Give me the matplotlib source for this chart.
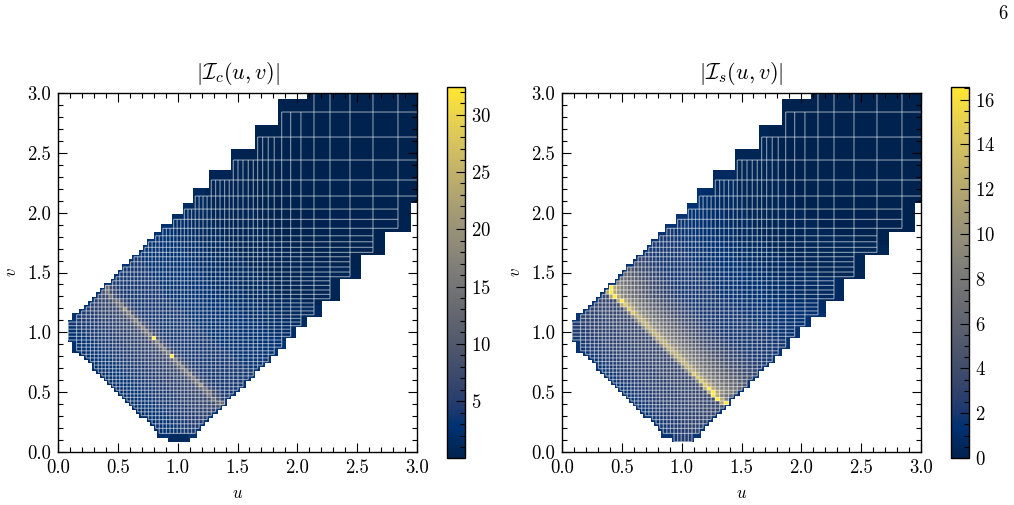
import numpy as np
import matplotlib
matplotlib.use("Agg")
import matplotlib.pyplot as plt
from matplotlib.ticker import MultipleLocator

plt.rcParams['font.family'] = 'cmr10'
plt.rcParams['mathtext.fontset'] = 'cm'
plt.rcParams['axes.formatter.use_mathtext'] = True
plt.rcParams['axes.unicode_minus'] = False

# cell edges of the (u, v) grid, both directions use the same nodes
edges = [0.086, 0.155, 0.197, 0.236, 0.271, 0.304, 0.336, 0.366, 0.396, 0.426,
         0.456, 0.486, 0.516, 0.546, 0.576, 0.606, 0.636, 0.666, 0.696, 0.726,
         0.756, 0.786, 0.816, 0.846, 0.876, 0.906, 0.936, 0.966, 0.996, 1.026,
         1.056, 1.086, 1.116, 1.147, 1.179, 1.212, 1.246, 1.281, 1.317, 1.354,
         1.392, 1.431, 1.465, 1.504, 1.546, 1.590, 1.632, 1.668, 1.710, 1.757,
         1.807, 1.869, 1.944, 2.030, 2.139, 2.273, 2.440, 2.632, 2.841, 3.060]

# first and last filled column of every row
row_start = [26, 23, 22, 21, 20, 18, 17, 16, 15, 14, 13, 12, 11, 10, 9, 8, 7, 6, 5, 5,
             4, 3, 2, 1, 1, 1, 0, 0, 0, 0, 0, 1, 1, 2, 3, 4, 5, 6, 7, 8,
             10, 11, 12, 13, 15, 16, 18, 19, 20, 22, 24, 27, 30, 33, 37, 42, 47, 51, 54]
row_stop = [30, 32, 33, 34, 35, 36, 37, 38, 39, 39, 40, 41, 42, 43, 43, 44, 45, 45, 46, 47,
            48, 48, 49, 49, 50, 50, 50, 51, 51, 51, 52, 52, 52, 53, 53, 53, 53, 54, 54, 54,
            54, 54, 55, 55, 55, 55, 55, 56, 56, 56, 56, 57, 57, 57, 58, 58, 58, 58, 58]

# one character per cell, the character picks an entry of the level lists
CODES = "0123456789abcdefghi"
levels_c = [0.05, 0.65, 1.3, 1.9, 2.6, 3.2, 3.9, 4.5, 5.5, 6.5,
            7.8, 9.7, 11.7, 13.6, 16.2, 19.4, 23.3, 27.5, 32.4]
levels_s = [0.0, 0.33, 0.66, 1.0, 1.3, 1.66, 2.0, 2.3, 2.8, 3.3,
            4.0, 5.0, 6.0, 7.0, 8.3, 9.9, 11.9, 14.1, 16.56]

rows_c = [
    "22222",
    "3445556666",
    "344555666677",
    "34455566667777",
    "3445556666777788",
    "3344555666677778888",
    "334455566667777888899",
    "3344555666677778888999a",
    "3344555666677778888999acd",
    "3344555666677778888999ada8",
    "3344555666677778888999ada876",
    "3344555666677778888999ac" "d" "a8766",
    "3344555666677778888999ac" "d" "a876666",
    "3344555666677778888999ac" "f" "a87666666",
    "3344555666677778888999ac" "e" "a876666666",
    "3344555666677778888999ac" "e" "a87666666666",
    "3344555666677778888999ac" "e" "a8766666666666",
    "3344555666677778888999ac" "e" "a87666666666666",
    "3344555666677778888999ac" "e" "a87666666666666" "55",
    "344555666677778888999ac" "e" "a87666666666666" "5555",
    "344555666677778888999ac" "e" "a87666666666666" "555555",
    "344555666677778888999ac" "i" "a87666666666666" "5555555",
    "344555666677778888999ac" "e" "a87666666666666" "55555555" "4",
    "344555666677778888999ac" "e" "a87666666666666" "55555555" "44",
    "44555666677778888999ac" "e" "a87666666666666" "55555555" "4444",
    "4555666677778888999ac" "e" "a87666666666666" "55555555" "44444",
    "4555666677778888999ac" "i" "a87666666666666" "55555555" "444444",
    "555666677778888999ac" "e" "a87666666666666" "55555555" "444444" "33",
    "55666677778888999ac" "e" "a87666666666666" "55555555" "444444" "333",
    "5666677778888999ac" "e" "a87666666666666" "55555555" "444444" "3333",
    "666677778888999ac" "e" "a87666666666666" "55555555" "444444" "333333",
    "6677778888999ac" "e" "a87666666666666" "55555555" "444444" "333333" "2",
    "677778888999ac" "e" "a87666666666666" "55555555" "444444" "333333" "22",
    "7778888999ac" "e" "a87666666666666" "55555555" "444444" "333333" "2222",
    "78888999ac" "f" "a87666666666666" "55555555" "444444" "333333" "22222",
    "888999ac" "d" "a87666666666666" "55555555" "444444" "333333" "222222",
    "8999ac" "d" "a87666666666666" "55555555" "444444" "333333" "222222" "1",
    "99a" "d" "a87666666666666" "55555555" "444444" "333333" "222222" "1111",
    "a" "d" "a87666666666666" "55555555" "444444" "333333" "222222" "11111",
    "d" "a87666666666666" "55555555" "444444" "333333" "222222" "11111",
    "7666666666666" "55555555" "444444" "333333" "222222" "111111",
    "66666666666" "55555555" "444444" "333333" "222222" "1111111",
    "666666666" "55555555" "444444" "333333" "222222" "111111111",
    "6666666" "55555555" "444444" "333333" "222222" "1111111111",
    "6666" "55555555" "444444" "333333" "222222" "1111111111" "0",
    "66" "55555555" "444444" "333333" "222222" "1111111111" "00",
    "5555555" "444444" "333333" "222222" "1111111111" "000",
    "55555" "444444" "333333" "222222" "1111111111" "00000",
    "555" "444444" "333333" "222222" "1111111111" "000000",
    "444444" "333333" "222222" "1111111111" "0000000",
    "444" "333333" "222222" "1111111111" "00000000",
    "33333" "222222" "1111111111" "0000000000",
    "3" "222222" "1111111111" "00000000000",
    "222" "1111111111" "000000000000",
    "11111111" "00000000000000",
    "11" "000000000000000",
    "000000000000",
    "00000000",
    "00000",
]

rows_s = [
    "67777",
    "5667777888",
    "566777788888",
    "56677778888888",
    "5667777888888899",
    "5566777788888889999",
    "556677778888888999999",
    "5566777788888889999999a",
    "5566777788888889999999ag" "i",
    "5566777788888889999999a" "i" "ge",
    "5566777788888889999999a" "i" "gedc",
    "5566777788888889999999ag" "i" "gfeed",
    "5566777788888889999999ag" "i" "gfeeddc",
    "5566777788888889999999ae" "h" "gfeeddccb",
    "5566777788888889999999ae" "h" "gfeeddccbb",
    "5566777788888889999999ae" "h" "gfeeddccbbaa",
    "5566777788888889999999ae" "h" "gfeeddccbbaa99",
    "5566777788888889999999ae" "g" "gfeeddccbbaa998",
    "5566777788888889999999ae" "g" "gfeeddccbbaa99887",
    "566777788888889999999ae" "g" "gfeeddccbbaa998877" "6",
    "566777788888889999999ae" "g" "gfeeddccbbaa998877" "666",
    "566777788888889999999ae" "g" "gfeeddccbbaa998877" "6666",
    "566777788888889999999ae" "g" "gfeeddccbbaa998877" "666666",
    "566777788888889999999ae" "g" "gfeeddccbbaa998877" "6666666",
    "66777788888889999999ae" "g" "gfeeddccbbaa998877" "666666666",
    "6777788888889999999ae" "g" "gfeeddccbbaa998877" "6666666666",
    "6777788888889999999ae" "g" "gfeeddccbbaa998877" "6666666666" "5",
    "777788888889999999ae" "g" "gfeeddccbbaa998877" "6666666666" "555",
    "77788888889999999ae" "g" "gfeeddccbbaa998877" "6666666666" "5555",
    "7788888889999999ae" "g" "gfeeddccbbaa998877" "6666666666" "55555",
    "788888889999999ae" "g" "gfeeddccbbaa998877" "6666666666" "555555" "4",
    "8888889999999ae" "g" "gfeeddccbbaa998877" "6666666666" "555555" "44",
    "888889999999ae" "g" "gfeeddccbbaa998877" "6666666666" "555555" "444",
    "8889999999ae" "h" "gfeeddccbbaa998877" "6666666666" "555555" "44444",
    "89999999ae" "h" "gfeeddccbbaa998877" "6666666666" "555555" "44444" "3",
    "999999ag" "h" "gfeeddccbbaa998877" "6666666666" "555555" "44444" "33",
    "9999ag" "i" "gfeeddccbbaa998877" "6666666666" "555555" "44444" "333",
    "99g" "i" "gfeeddccbbaa998877" "6666666666" "555555" "44444" "3333" "22",
    "g" "i" "gfeeddccbbaa998877" "6666666666" "555555" "44444" "3333" "222",
    "i" "gfeeddccbbaa998877" "6666666666" "555555" "44444" "3333" "222",
    "eeddccbbaa998877" "6666666666" "555555" "44444" "3333" "2222",
    "ddccbbaa998877" "6666666666" "555555" "44444" "3333" "22222",
    "ccbbaa998877" "6666666666" "555555" "44444" "3333" "22222" "11",
    "bbaa998877" "6666666666" "555555" "44444" "3333" "22222" "111",
    "a998877" "6666666666" "555555" "44444" "3333" "22222" "1111",
    "98877" "6666666666" "555555" "44444" "3333" "22222" "11111",
    "77" "6666666666" "555555" "44444" "3333" "22222" "111111",
    "6666666666" "555555" "44444" "3333" "22222" "11111111",
    "66666666" "555555" "44444" "3333" "22222" "111111111",
    "66666" "555555" "44444" "3333" "22222" "111111111" "0",
    "66" "555555" "44444" "3333" "22222" "111111111" "00",
    "5555" "44444" "3333" "22222" "111111111" "0000",
    "44444" "3333" "22222" "111111111" "00000",
    "4" "3333" "22222" "111111111" "000000",
    "22222" "111111111" "00000000",
    "11111111" "000000000",
    "11" "0000000000",
    "00000000",
    "00000",
]

u_ticks = [0.0, 0.5, 1.0, 1.5, 2.0, 2.5, 3.0]


def fine_field(rows, levels, cap):
    """Cell values on a grid split at the midpoints, with a half cell rim around the filled part."""
    n = len(edges) - 1
    z = np.full((n, n), np.nan)
    for j, row in enumerate(rows):
        for k in range(row_start[j], row_stop[j] + 1):
            z[j, k] = levels[CODES.index(row[k - row_start[j]])]
    fine = np.repeat(np.repeat(z, 2, axis=0), 2, axis=1)

    # one extra ring so that shifting never wraps around the array
    padded = np.pad(fine, 1, constant_values=np.nan)
    rim = padded.copy()
    for dj in (-1, 0, 1):
        for dk in (-1, 0, 1):
            moved = np.roll(np.roll(padded, dj, axis=0), dk, axis=1)
            moved = np.minimum(moved, cap)
            rim = np.where(np.isnan(rim) & ~np.isnan(moved), moved, rim)
    return rim[1:-1, 1:-1]


def draw_seams(ax, first_row):
    """Light hairlines along the cell borders."""
    n = len(edges) - 1
    ys, x0, x1 = [], [], []
    for j in range(first_row, n + 1):
        near = [r for r in (j - 1, j) if first_row <= r < n]
        ys.append(edges[j])
        x0.append(edges[min(row_start[r] for r in near)])
        x1.append(edges[max(row_stop[r] for r in near) + 1])
    xs, y0, y1 = [], [], []
    for k in range(n + 1):
        inside = [j for j in range(first_row, n) if row_start[j] <= k <= row_stop[j] + 1]
        xs.append(edges[k])
        y0.append(edges[min(inside)])
        y1.append(edges[max(inside) + 1])
    for lines in (ax.hlines(ys, x0, x1, colors='white', linewidth=0.85, alpha=0.5, zorder=1.5),
                  ax.vlines(xs, y0, y1, colors='white', linewidth=0.85, alpha=0.5, zorder=1.5)):
        lines.set_snap(False)


def px_axes(fig, left, top, right, bottom):
    W, H = fig.get_size_inches() * fig.dpi
    return fig.add_axes([left / W, 1 - bottom / H, (right - left) / W, (bottom - top) / H])


def draw_panel(fig, box, cbox, rows, levels, title, cmax, cmin, major, minor, first_row):
    ax = px_axes(fig, *box)
    cap = levels[5]
    mids = [(a + b) / 2 for a, b in zip(edges[:-1], edges[1:])]
    fine_edges = np.sort(np.array(edges + mids))
    field = np.ma.masked_invalid(fine_field(rows, levels, cap))
    mesh = ax.pcolormesh(fine_edges, fine_edges, field, cmap='cividis', vmin=cmin, vmax=cmax,
                         antialiased=False, linewidth=0, zorder=1)
    draw_seams(ax, first_row)
    ax.set_xlim(0, 3)
    ax.set_ylim(0, 3)
    ax.set_xticks(u_ticks)
    ax.set_yticks(u_ticks)
    ax.xaxis.set_major_formatter(plt.FormatStrFormatter('%.1f'))
    ax.yaxis.set_major_formatter(plt.FormatStrFormatter('%.1f'))
    ax.xaxis.set_minor_locator(MultipleLocator(0.1))
    ax.yaxis.set_minor_locator(MultipleLocator(0.1))
    ax.set_axisbelow(False)
    ax.tick_params(which='both', direction='in', top=True, right=True, width=0.8, labelsize=13.5, pad=5)
    ax.tick_params(which='major', length=6.5)
    ax.tick_params(which='minor', length=3.3)
    for s in ax.spines.values():
        s.set_linewidth(1.0)
    ax.set_xlabel(r'$u$', fontsize=12, labelpad=6.5)
    ax.set_ylabel(r'$v$', fontsize=12, labelpad=6)
    ax.set_title(title, fontsize=16, pad=10)

    cax = px_axes(fig, *cbox)
    cbar = fig.colorbar(mesh, cax=cax)
    cbar.ax.yaxis.set_major_locator(MultipleLocator(major))
    cbar.ax.yaxis.set_minor_locator(MultipleLocator(minor))
    cbar.ax.tick_params(which='both', direction='in', right=True, width=0.8, labelsize=13.5, pad=4.5)
    cbar.ax.tick_params(which='major', length=6.5)
    cbar.ax.tick_params(which='minor', length=3.3)
    cbar.outline.set_linewidth(1.0)
    return ax


fig = plt.figure(figsize=(10.14, 5.05), dpi=100)
draw_panel(fig, (58, 93, 417, 452), (447, 87, 465, 458), rows_c, levels_c,
           r'$|\mathcal{I}_c(u,v)|$', 32.4, 0.05, 5, 1, 1)
draw_panel(fig, (562, 93, 921, 452), (951, 87, 969, 458), rows_s, levels_s,
           r'$|\mathcal{I}_s(u,v)|$', 16.56, 0.0, 2, 0.5, 0)
fig.text(1003 / 1014, 1 - 14 / 505, '6', fontsize=13.5, ha='center', va='center')

fig.savefig('out.png', dpi=100)
